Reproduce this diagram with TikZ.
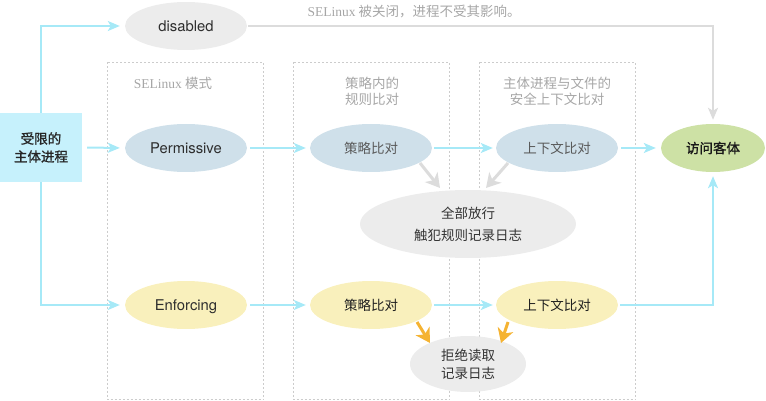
\documentclass[tikz,border=0pt]{standalone}
\usepackage{fontspec}
\setmainfont{TeX Gyre Heros}
\newfontfamily\cjk{Noto Sans CJK SC}
\newfontfamily\cjkmed[FakeBold=1.2]{Noto Sans CJK SC}
\newfontfamily\serifl{Liberation Serif}
\usetikzlibrary{shapes.geometric,arrows.meta,calc}
\definecolor{cyanline}{HTML}{A6E9F7}
\definecolor{srcfill}{HTML}{C6F1FC}
\definecolor{grayfill}{HTML}{ECECEC}
\definecolor{bluefill}{HTML}{CFE0EA}
\definecolor{yellowfill}{HTML}{F9F0BC}
\definecolor{greenfill}{HTML}{CDE1A5}
\definecolor{grayline}{HTML}{DCDCDC}
\definecolor{orangeline}{HTML}{F5B332}
\definecolor{dashcol}{HTML}{CCCCCC}
\definecolor{titlecol}{HTML}{A6A6A6}
\begin{document}
\begin{tikzpicture}[x=1pt,y=-1pt,
  ell/.style={ellipse, minimum width=122pt, minimum height=48pt, inner sep=0pt},
  entext/.style={font=\fontsize{14.8}{17}\selectfont, text=black!82, text depth=0pt},
  cjktext/.style={font=\cjk\fontsize{13.5}{17}\selectfont},
  cyanarrow/.style={draw=cyanline, line width=2pt, -{Stealth[length=12pt,width=10pt,inset=3pt]}},
  grayarrow/.style={draw=grayline, line width=2pt, -{Stealth[length=12pt,width=10pt,inset=3pt]}},
  diagarrow/.style={draw=grayline, line width=3pt, -{Stealth[length=14pt,width=16pt,inset=4pt]}},
  orangearrow/.style={draw=orangeline, line width=3pt, -{Stealth[length=14pt,width=16pt,inset=4pt]}},
  dashbox/.style={draw=dashcol, line width=0.7pt, dash pattern=on 2pt off 2pt},
  titletext/.style={text=titlecol, align=center, font=\cjk\fontsize{13.5}{16}\selectfont}
]
\useasboundingbox (0,0) rectangle (766,401);
% dashed boxes
\draw[dashbox] (107.5,62.5) rectangle (263.5,399.5);
\draw[dashbox] (293.5,62.5) rectangle (449.5,399.5);
\draw[dashbox] (479.5,62.5) rectangle (635.5,399.5);
% titles
\node[titletext] (t1) at (173,83) {{\serifl SELinux} 模式};
\node[titletext] (t2) at (372,91) {策略内的\\规则比对};
\node[titletext] (t3) at (557,91) {主体进程与文件的\\安全上下文比对};
\node[titletext, anchor=west] (t0) at (304,12) {{\serifl SELinux} 被关闭，进程不受其影响。};
% source box
\node[fill=srcfill, minimum width=82pt, minimum height=69pt, inner sep=0pt, align=center,
      font=\cjkmed\fontsize{13.5}{18}\selectfont, text=black!85] (src) at (41,147.5) {受限的\\主体进程};
% ellipses
\node[ell, fill=grayfill, entext] (dis) at (186,26) {disabled};
\node[ell, fill=bluefill, entext] (perm) at (186,148) {Permissive};
\node[ell, fill=bluefill, cjktext, text=black!65] (pol1) at (371,148) {策略比对};
\node[ell, fill=bluefill, cjktext, text=black!65] (ctx1) at (557,148) {上下文比对};
\node[ell, fill=greenfill, minimum width=104pt, font=\cjkmed\fontsize{13.5}{17}\selectfont, text=black!90] (acc) at (713,148) {访问客体};
\node[ell, fill=yellowfill, entext] (enf) at (186,305) {Enforcing};
\node[ell, fill=yellowfill, cjktext, text=black!88] (pol2) at (371,305) {策略比对};
\node[ell, fill=yellowfill, cjktext, text=black!88] (ctx2) at (557,305) {上下文比对};
\node[ell, fill=grayfill, minimum width=216pt, minimum height=68pt, align=center,
      font=\cjk\fontsize{13.5}{22}\selectfont, text=black!80] (allow) at (468,224) {全部放行\\触犯规则记录日志};
\node[ell, fill=grayfill, minimum width=116pt, minimum height=56pt, align=center,
      font=\cjk\fontsize{13.5}{18}\selectfont, text=black!80] (deny) at (468,364) {拒绝读取\\记录日志};
% cyan connectors
\draw[cyanarrow, shorten >=5pt] (src.north) |- (dis.west);
\draw[cyanarrow, shorten <=5pt, shorten >=5pt] (src.east) -- (perm.west);
\draw[cyanarrow, shorten >=5pt] (src.south) |- (enf.west);
\draw[cyanarrow, shorten <=3pt, shorten >=4pt] (perm.east) -- (pol1.west);
\draw[cyanarrow, shorten <=2pt, shorten >=3pt] (pol1.east) -- (ctx1.west);
\draw[cyanarrow, shorten <=3pt, shorten >=5pt] (ctx1.east) -- (acc.west);
\draw[cyanarrow, shorten <=3pt, shorten >=4pt] (enf.east) -- (pol2.west);
\draw[cyanarrow, shorten <=2pt, shorten >=3pt] (pol2.east) -- (ctx2.west);
\draw[cyanarrow, shorten <=2pt, shorten >=4pt] (ctx2.east) -| (acc.south);
% gray connector
\draw[grayarrow, shorten <=1pt, shorten >=4pt] (dis.east) -| (acc.north);
% diagonal arrows
\draw[diagarrow] ($(pol1.center)+(49,15)$) -- ($(allow.center)+(-28,-36)$);
\draw[diagarrow] ($(ctx1.center)+(-49,15)$) -- ($(allow.center)+(18,-36)$);
\draw[orangearrow] ($(pol2.center)+(46,17)$) -- ($(deny.center)+(-38,-21)$);
\draw[orangearrow] ($(ctx2.center)+(-49,17)$) -- ($(deny.center)+(33,-21)$);
\end{tikzpicture}
\end{document}
